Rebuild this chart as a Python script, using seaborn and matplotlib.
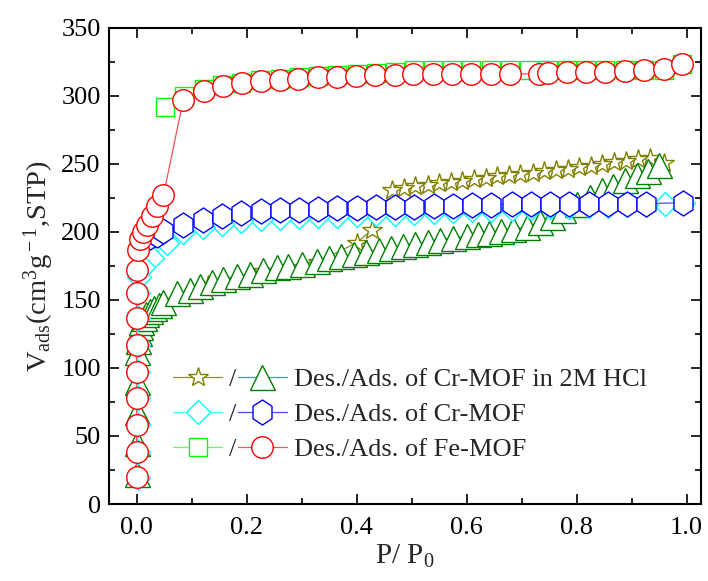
import matplotlib
matplotlib.use("Agg")
import matplotlib.pyplot as plt
from matplotlib.path import Path
import seaborn as sns

# ---------------- data ----------------
# Fe-MOF adsorption (red circles)
fe_ads_p = [0.0, 0.0, 0.0, 0.0, 0.0, 0.0, 0.0, 0.0, 0.0, 0.003, 0.007, 0.012, 0.019,
            0.029, 0.037, 0.049, 0.085, 0.123, 0.157, 0.192, 0.226, 0.261, 0.294,
            0.329, 0.364, 0.399, 0.434, 0.469, 0.503, 0.539, 0.573, 0.608, 0.644,
            0.679, 0.731, 0.748, 0.782, 0.817, 0.852, 0.888, 0.923, 0.958, 0.992]
fe_ads_v = [20, 38.5, 58, 78, 97, 117, 136.5, 155, 172, 187, 195, 200, 205,
            212, 219, 227, 297.3, 303.9, 307.1, 309.6, 310.7, 312, 312.7,
            313.7, 314.2, 314.7, 315.2, 315.7, 315.9, 316.2, 316.4, 316.3, 316.3,
            316.2, 316.2, 316.9, 317.4, 317.4, 317.7, 318.1, 318.8, 319.9, 323.5]
# Fe-MOF desorption (green squares)
fe_des_p = [0.992, 0.958, 0.923, 0.888, 0.852, 0.817, 0.782, 0.748, 0.714, 0.679,
            0.644, 0.608, 0.573, 0.539, 0.505, 0.470, 0.435, 0.400, 0.365, 0.330,
            0.295, 0.260, 0.225, 0.190, 0.155, 0.122, 0.086, 0.051]
fe_des_v = [323.3, 319.3, 319.2, 319.1, 319.0, 319.0, 319.0, 318.9, 318.8, 318.8,
            318.9, 318.9, 318.9, 319.0, 319.0, 317.7, 316.6, 315.9, 315.2, 314.7,
            314.0, 312.7, 311.5, 309.8, 307.8, 305.0, 300.0, 291.6]

# Cr-MOF adsorption (blue hexagons)
cr_ads_p = [0.025, 0.037, 0.049, 0.085, 0.121, 0.155, 0.190, 0.226, 0.261, 0.295,
            0.330, 0.365, 0.400, 0.435, 0.470, 0.505, 0.540, 0.575, 0.610, 0.645,
            0.682, 0.717, 0.752, 0.787, 0.822, 0.857, 0.891, 0.926, 0.993]
cr_ads_v = [196, 198, 200.4, 205.3, 209, 212, 213.9, 215.1, 215.9, 216.3,
            217.1, 217.5, 217.8, 218.1, 218.4, 218.7, 219, 219.3, 219.6, 219.9,
            220.3, 220.4, 220.5, 220.5, 220.6, 220.6, 220.7, 220.8, 221.5]
# Cr-MOF desorption (cyan diamonds)
cr_des_p = [0.993, 0.960, 0.926, 0.891, 0.857, 0.822, 0.787, 0.752, 0.717, 0.682,
            0.645, 0.610, 0.575, 0.540, 0.505, 0.470, 0.435, 0.400, 0.365, 0.330,
            0.295, 0.261, 0.226, 0.190, 0.155, 0.121, 0.085, 0.055, 0.028, 0.012,
            0.004, 0.002, 0.002, 0.002, 0.002, 0.002, 0.002, 0.002, 0.002]
cr_des_v = [221.3, 220.5, 220, 219.7, 219.4, 219, 218.6, 218.2, 217.6, 217,
            216.4, 215.8, 215.2, 214.6, 214, 213.4, 212.9, 212.4, 212, 211.6,
            211, 210.2, 209.2, 207.8, 206, 203.5, 200, 192, 181, 174,
            167, 155, 137, 117, 97, 78, 58, 38, 19]

# Cr-MOF in 2M HCl adsorption (green triangles)
hcl_ads_p = [0.0, 0.0, 0.0, 0.0, 0.0, 0.002, 0.004, 0.006, 0.009, 0.013, 0.018,
             0.024, 0.031, 0.040, 0.049, 0.073, 0.097, 0.115, 0.137, 0.158, 0.182,
             0.206, 0.230, 0.255, 0.276, 0.300, 0.328, 0.350, 0.372, 0.395, 0.417,
             0.440, 0.462, 0.485, 0.507, 0.530, 0.552, 0.575, 0.600, 0.620, 0.640,
             0.663, 0.685, 0.709, 0.734, 0.756, 0.776, 0.800, 0.825, 0.846, 0.867,
             0.888, 0.909, 0.930, 0.950]
hcl_ads_v = [22, 45, 68, 90, 112, 120, 126, 130, 134, 137, 140,
             142, 144, 146, 148.4, 155, 157, 160.6, 163, 165.6, 167.5,
             169, 172, 174, 175.3, 176.6, 179, 180.5, 182, 183.5, 185,
             186.5, 188, 189.5, 191, 192.5, 194, 195.5, 197, 198.3, 199.5,
             200.8, 202, 204, 207.2, 211, 216, 220.7, 226, 230.5, 234,
             238, 241.6, 245, 249]
# Cr-MOF in 2M HCl desorption (olive stars)
hcl_des_p = [0.958, 0.934, 0.912, 0.890, 0.868, 0.847, 0.826, 0.805, 0.784, 0.762,
             0.741, 0.720, 0.698, 0.677, 0.656, 0.635, 0.613, 0.592, 0.571, 0.550,
             0.529, 0.507, 0.486, 0.464, 0.428, 0.400, 0.330, 0.230, 0.130, 0.050,
             0.015, 0.0]
hcl_des_v = [250.5, 254.5, 253.5, 252.5, 251.3, 250, 248.8, 247.6, 246.4, 245.4,
             244.5, 243.6, 242.8, 242, 241, 240, 238.8, 237.8, 236.8, 235.8,
             234.8, 233.8, 232.6, 231, 201.6, 192, 178, 171, 161, 147,
             137, 110]

labels = ["Des./Ads. of Cr-MOF in 2M HCl", "Des./Ads. of Cr-MOF", "Des./Ads. of Fe-MOF"]
x_ticks = [0.0, 0.2, 0.4, 0.6, 0.8, 1.0]
y_ticks = [0, 50, 100, 150, 200, 250, 300, 350]

# ---------------- style ----------------
sns.set_style("ticks")
plt.rcParams["font.family"] = ["Liberation Serif", "DejaVu Serif"]
plt.rcParams["mathtext.fontset"] = "custom"
plt.rcParams["mathtext.rm"] = "Liberation Serif"
plt.rcParams["mathtext.it"] = "Liberation Serif:italic"
plt.rcParams["mathtext.bf"] = "Liberation Serif:bold"

fig = plt.figure(figsize=(7.08, 5.81), dpi=100)
ax = fig.add_axes([0.154, 0.1325, 0.836, 0.8195])

# slightly tall hexagon (pointy top) like the reference
hex_marker = Path([(0, 1), (0.76, 0.5), (0.76, -0.5), (0, -1), (-0.76, -0.5),
                   (-0.76, 0.5), (0, 1)], closed=True)


def draw(p, v, marker, ms, edge, line, z):
    sns.lineplot(x=p, y=v, ax=ax, sort=False, estimator=None, marker=marker,
                 markersize=ms, markerfacecolor="white", markeredgecolor=edge,
                 markeredgewidth=1.0, color=line, linewidth=0.9, zorder=z,
                 legend=False)
    return ax.lines[-1]


h_star = draw(hcl_des_p, hcl_des_v, "*", 15, "#808000", "#8c8c30", 2)
h_tri = draw(hcl_ads_p, hcl_ads_v, "^", 18, "#008000", "#4a9a9a", 3)
h_dia = draw(cr_des_p, cr_des_v, "D", 12.5, "#00ffff", "#40ffff", 4)
h_hex = draw(cr_ads_p, cr_ads_v, hex_marker, 18, "#0000ff", "#4848ff", 5)
h_sq = draw(fe_des_p, fe_des_v, "s", 13.5, "#00ff00", "#60ff60", 6)
h_cir = draw(fe_ads_p, fe_ads_v, "o", 15.5, "#ff0000", "#ff5050", 7)

ax.set_xlim(-0.05, 1.026)
ax.set_ylim(0, 350)
ax.set_xticks(x_ticks)
ax.set_xticklabels([f"{t:.1f}" for t in x_ticks])
ax.set_yticks(y_ticks)
ax.set_xticks([0.1, 0.3, 0.5, 0.7, 0.9], minor=True)
ax.set_yticks([25, 75, 125, 175, 225, 275, 325], minor=True)
ax.tick_params(which="both", direction="in", top=True, right=True, width=1.2,
               colors="black", labelsize=19)
ax.tick_params(which="major", length=7)
ax.tick_params(which="minor", length=4)
ax.tick_params(axis="x", pad=9)
ax.tick_params(axis="y", pad=6)
for s in ax.spines.values():
    s.set_linewidth(1.5)
    s.set_color("black")

ax.set_xlabel("P/ P$_0$", fontsize=21, labelpad=3)
ax.set_ylabel("V$_{\\rm ads}$(cm$^3$g$^{\\rm -1}$,STP)", fontsize=20.5, labelpad=4)

leg1 = ax.legend([h_star, h_dia, h_sq], ["/", "/", "/"], loc="upper left",
                 bbox_to_anchor=(0.2444, 0.3666), bbox_transform=fig.transFigure,
                 frameon=False, fontsize=19, handlelength=1.86, handletextpad=0.25,
                 labelspacing=0.43, borderpad=0, borderaxespad=0, numpoints=1)
ax.add_artist(leg1)
ax.legend([h_tri, h_hex, h_cir], labels, loc="upper left",
          bbox_to_anchor=(0.336, 0.3666), bbox_transform=fig.transFigure,
          frameon=False, fontsize=19, handlelength=1.86, handletextpad=0.27,
          labelspacing=0.43, borderpad=0, borderaxespad=0, numpoints=1)

fig.savefig("out.png", dpi=100)
